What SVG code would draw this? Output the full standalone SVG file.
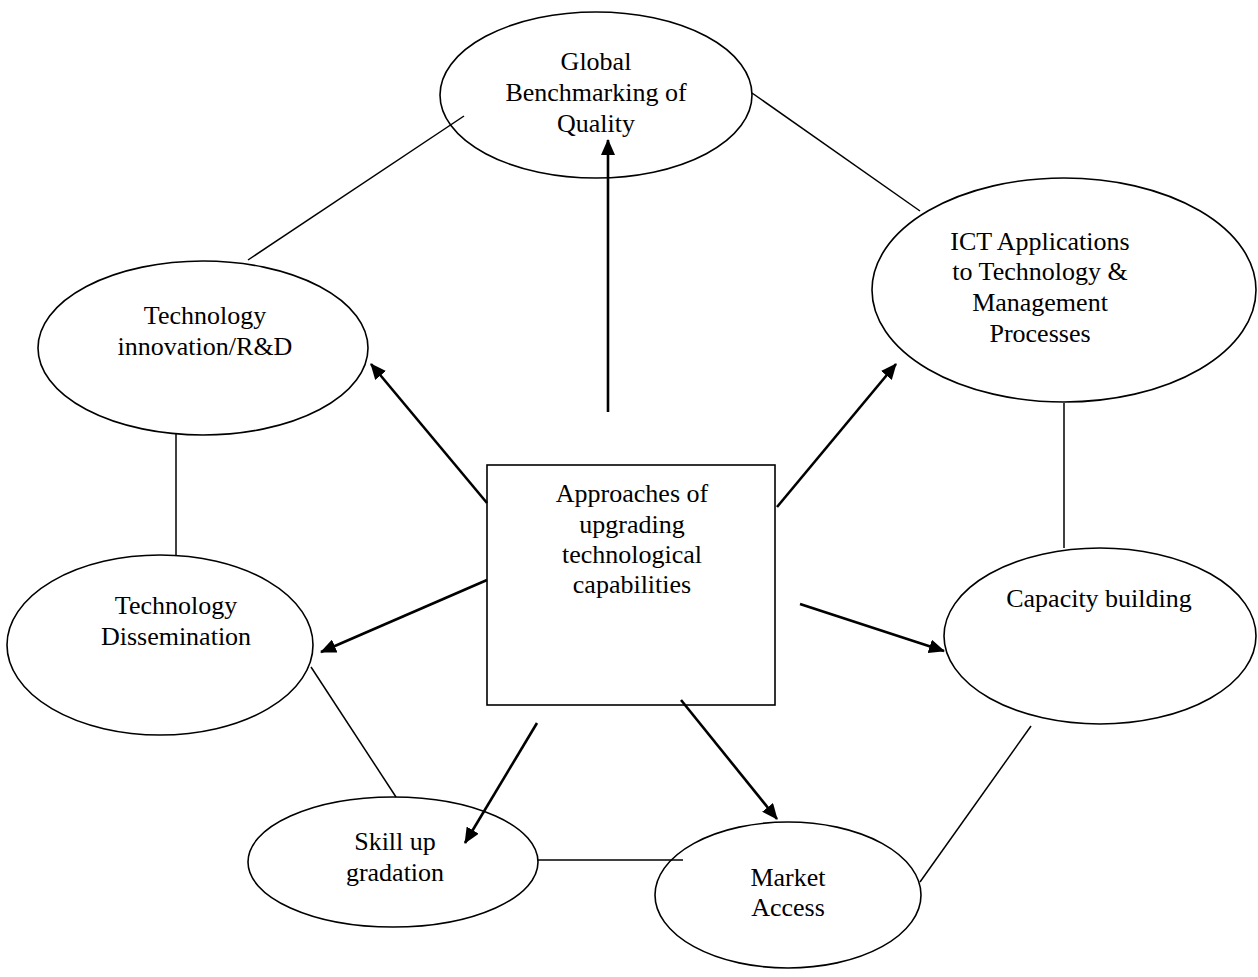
<svg xmlns="http://www.w3.org/2000/svg" width="1258" height="977" viewBox="0 0 1258 977">
  <style>
    .node { fill: none; stroke: #000; stroke-width: 1.6; }
    .label { font-family: "Liberation Serif", "Times New Roman", serif; font-size: 26px; fill: #000; text-anchor: middle; }
    .link { stroke: #000; stroke-width: 1.5; fill: none; }
    .arrow { stroke: #000; stroke-width: 2.6; fill: none; marker-end: url(#head); }
  </style>
  <defs>
    <marker id="head" viewBox="0 0 16 14" refX="15" refY="7" markerWidth="16" markerHeight="14" markerUnits="userSpaceOnUse" orient="auto">
      <path d="M0,0 L16,7 L0,14 Z" fill="#000"/>
    </marker>
  </defs>
  <rect width="1258" height="977" fill="#fff"/>

  <g id="global-benchmarking">
    <ellipse class="node" cx="596" cy="95" rx="156" ry="83"/>
    <text class="label" x="596" y="70">Global</text>
    <text class="label" x="596" y="101">Benchmarking of</text>
    <text class="label" x="596" y="132">Quality</text>
  </g>

  <g id="ict-applications">
    <ellipse class="node" cx="1064" cy="290" rx="192" ry="112"/>
    <text class="label" x="1040" y="250">ICT Applications</text>
    <text class="label" x="1040" y="280">to Technology &amp;</text>
    <text class="label" x="1040" y="311">Management</text>
    <text class="label" x="1040" y="342">Processes</text>
  </g>

  <g id="technology-innovation">
    <ellipse class="node" cx="203" cy="348" rx="165" ry="87"/>
    <text class="label" x="205" y="324">Technology</text>
    <text class="label" x="205" y="355">innovation/R&amp;D</text>
  </g>

  <g id="technology-dissemination">
    <ellipse class="node" cx="160" cy="645" rx="153" ry="90"/>
    <text class="label" x="176" y="614">Technology</text>
    <text class="label" x="176" y="645">Dissemination</text>
  </g>

  <g id="capacity-building">
    <ellipse class="node" cx="1100" cy="636" rx="156" ry="88"/>
    <text class="label" x="1099" y="607">Capacity building</text>
  </g>

  <g id="skill-up-gradation">
    <ellipse class="node" cx="393" cy="862" rx="145" ry="65"/>
    <text class="label" x="395" y="850">Skill up</text>
    <text class="label" x="395" y="881">gradation</text>
  </g>

  <g id="market-access">
    <ellipse class="node" cx="788" cy="895" rx="133" ry="73"/>
    <text class="label" x="788" y="886">Market</text>
    <text class="label" x="788" y="916">Access</text>
  </g>

  <g id="approaches">
    <rect class="node" x="487" y="465" width="288" height="240"/>
    <text class="label" x="632" y="502">Approaches of</text>
    <text class="label" x="632" y="533">upgrading</text>
    <text class="label" x="632" y="563">technological</text>
    <text class="label" x="632" y="593">capabilities</text>
  </g>

  <g id="connectors">
    <line class="link" x1="464" y1="116" x2="248" y2="260"/>
    <line class="link" x1="752" y1="93" x2="920" y2="211"/>
    <line class="link" x1="176" y1="434" x2="176" y2="555"/>
    <line class="link" x1="1064" y1="403" x2="1064" y2="548"/>
    <line class="link" x1="311" y1="667" x2="396" y2="797"/>
    <line class="link" x1="538" y1="860" x2="683" y2="860"/>
    <line class="link" x1="1031" y1="726" x2="920" y2="882"/>

    <line class="arrow" x1="608" y1="412" x2="608" y2="140"/>
    <line class="arrow" x1="487" y1="503" x2="371" y2="364"/>
    <line class="arrow" x1="777" y1="507" x2="896" y2="364"/>
    <line class="arrow" x1="487" y1="580" x2="321" y2="652"/>
    <line class="arrow" x1="800" y1="604" x2="944" y2="651"/>
    <line class="arrow" x1="537" y1="723" x2="465" y2="843"/>
    <line class="arrow" x1="681" y1="700" x2="777" y2="819"/>
  </g>
</svg>
